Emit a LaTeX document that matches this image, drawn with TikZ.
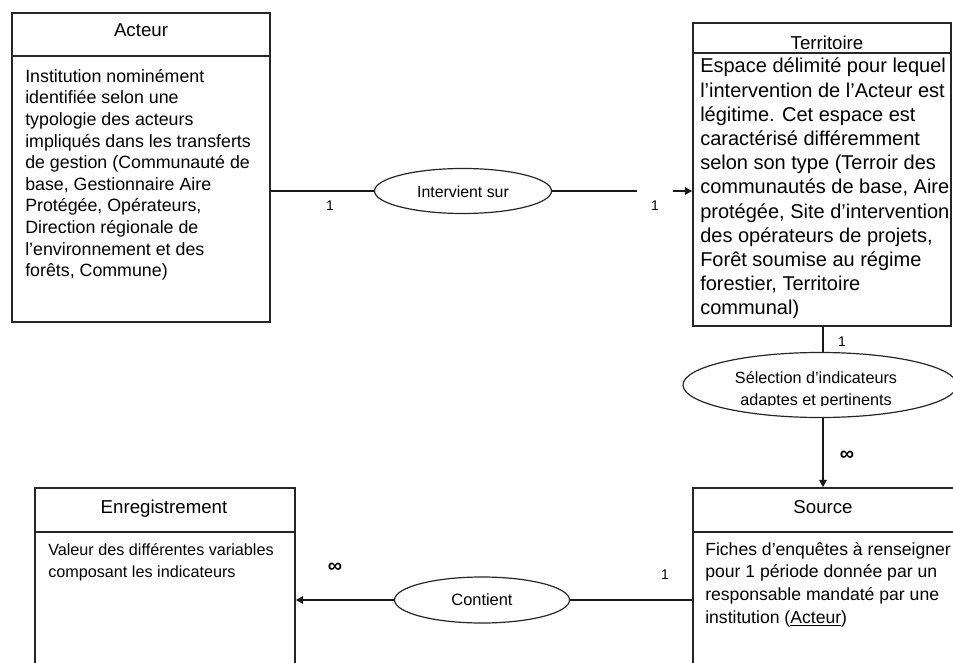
\documentclass[tikz,border=0pt]{standalone}
\usepackage{fontspec}
\setmainfont{Liberation Sans}
\usetikzlibrary{shapes.geometric,arrows.meta,fit}
\begin{document}
\begin{tikzpicture}[x=0.75pt,y=-0.75pt,
 box/.style={draw=black!85, line width=1.1pt, rectangle, inner sep=0pt},
 rel/.style={draw=black!85, ellipse, line width=0.9pt, inner sep=0pt},
 conn/.style={draw=black!90, line width=1.3pt},
 tip/.style={-{Triangle[length=5.5pt,width=5.5pt]}},
 ttl/.style={font=\fontsize{14}{16}\selectfont, inner sep=0pt, anchor=base},
 body/.style={align=left, anchor=north west, inner sep=0pt},
 card/.style={font=\fontsize{10.5}{12}\selectfont, inner sep=0pt},
 inf/.style={font=\fontsize{15}{15}\selectfont\bfseries, inner sep=0pt},
]
\useasboundingbox (0,0) rectangle (953,663);
\clip (0,0) rectangle (953,663);
\fill[white] (0,0) rectangle (953,663);

% ---------- boxes ----------
\node[box, fit={(12,13) (270,322)}] (acteur) {};
\draw[box] (12,56) -- (270,56);
\node[ttl] (acteurT) at (141,37) {Acteur};
\node[body, font=\fontsize{13.35}{16.2}\selectfont] (acteurB) at (25,69)
 {Institution nominément\\identifiée selon une\\typologie des acteurs\\impliqués dans les transferts\\de gestion (Communauté de\\base, Gestionnaire Aire\\Protégée, Opérateurs,\\Direction régionale de\\l'environnement et des\\forêts, Commune)};

\node[box, fit={(693,23) (951,326)}] (terr) {};
\draw[box] (693,53) -- (951,53);
\node[ttl] (terrT) at (827,50) {Territoire};
\node[body, font=\fontsize{15}{18.15}\selectfont] (terrB) at (700,58)
 {Espace délimité pour lequel\\l'intervention de l'Acteur est\\légitime. Cet espace est\\caractérisé différemment\\selon son type (Terroir des\\communautés de base, Aire\\protégée, Site d'intervention\\des opérateurs de projets,\\Forêt soumise au régime\\forestier, Territoire\\communal)};

\node[box, fit={(693,488) (975,690)}] (src) {};
\draw[box] (693,532) -- (975,532);
\node[ttl] (srcT) at (823,513) {Source};
\node[body, font=\fontsize{13.2}{17}\selectfont] (srcB) at (705,542)
 {Fiches d'enquêtes à renseigner\\pour 1 période donnée par un\\responsable mandaté par une\\institution (\underline{Acteur})};

\node[box, fit={(35,488) (295,690)}] (enr) {};
\draw[box] (35,532) -- (295,532);
\node[ttl] (enrT) at (164,513) {Enregistrement};
\node[body, font=\fontsize{12.15}{16.5}\selectfont] (enrB) at (48,543)
 {Valeur des différentes variables\\composant les indicateurs};

% ---------- relations ----------
\node[rel, minimum width=132.75pt, minimum height=33.75pt] (iv) at (463,191) {};
\node[font=\fontsize{11.9}{14}\selectfont, inner sep=0pt] (ivT) at (463,192) {Intervient sur};

\node[rel, minimum width=205.5pt, minimum height=48.75pt] (sel) at (820,385) {};
\begin{scope}
 \clip (690,350) rectangle (960,405);
 \node[font=\fontsize{12.15}{16.5}\selectfont, align=center, anchor=north, inner sep=0pt] (selT) at (816,371)
  {Sélection d'indicateurs\\adaptes et pertinents};
\end{scope}

\node[rel, minimum width=131.25pt, minimum height=34.5pt] (ct) at (482,600) {};
\node[font=\fontsize{12.3}{14}\selectfont, inner sep=0pt] (ctT) at (482,600) {Contient};

% ---------- connectors ----------
\coordinate (ivEnd) at (637,191);
\coordinate (ivArr) at (673,191);
\draw[conn] (acteur.east |- iv.west) -- (iv.west);
\draw[conn] (iv.east) -- (ivEnd);
\draw[conn, tip] (ivArr) -- (terr.west |- ivArr);

\coordinate (vx) at (823,0);
\draw[conn] (vx |- terr.south) -- (vx |- sel.north);
\draw[conn, tip] (vx |- sel.south) -- (vx |- src.north);

\draw[conn, tip] (ct.west) -- (enr.east |- ct.west);
\draw[conn] (src.west |- ct.east) -- (ct.east);

% ---------- cardinalities ----------
\node[card] (c1) at (330,206) {1};
\node[card] (c2) at (655,206) {1};
\node[card] (c3) at (842,342) {1};
\node[inf]  (c4) at (847,456) {∞};
\node[inf]  (c5) at (335,568) {∞};
\node[card] (c6) at (665,575) {1};
\end{tikzpicture}
\end{document}
